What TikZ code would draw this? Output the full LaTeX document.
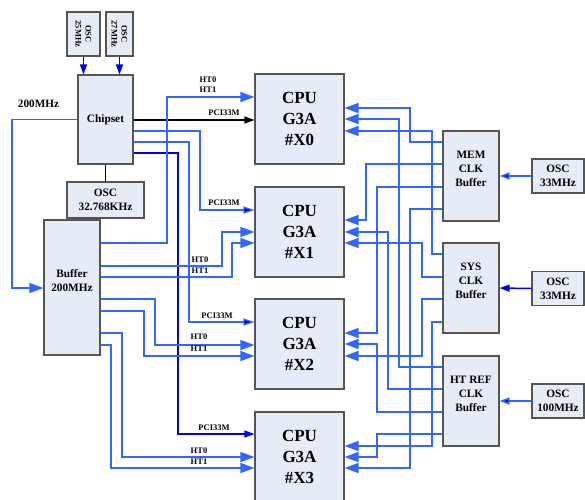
\documentclass[tikz,border=0pt]{standalone}
\usepackage{fontspec}
\setmainfont{Liberation Serif}
\usetikzlibrary{arrows.meta}
\definecolor{boxf}{HTML}{E6ECF6}
\definecolor{boxd}{HTML}{555555}
\definecolor{bluea}{HTML}{3366FF}
\definecolor{blueb}{HTML}{0000F0}
\begin{document}
\begin{tikzpicture}[x=1pt,y=-1pt,
  bx/.style={draw=boxd, fill=boxf, line width=1.1pt, inner sep=0pt, align=center, font=\bfseries\fontsize{11.3}{14}\selectfont},
  cpu/.style={bx, minimum width=89pt, minimum height=90pt, font=\bfseries\fontsize{17}{21}\selectfont},
  clk/.style={bx, minimum width=56pt, minimum height=90pt},
  osc/.style={bx, minimum width=52pt, minimum height=34pt},
  intext/.style={align=center, font=\bfseries\fontsize{11.3}{14}\selectfont, inner sep=0pt},
  rot/.style={rotate=-90, align=center, inner sep=0pt, font=\bfseries\fontsize{8.5}{10}\selectfont},
  big/.style={draw=bluea, line width=1.5pt, -{Triangle[length=14pt,width=10pt]}},
  pci/.style={draw=bluea, line width=1.2pt, -{Triangle[length=11pt,width=7pt,fill=blueb]}},
  dk/.style={draw=blueb, line width=1.2pt, -{Triangle[length=10pt,width=7pt]}},
  lab/.style={font=\bfseries\fontsize{8.5}{9}\selectfont, inner sep=0pt},
]
\useasboundingbox (0,0) rectangle (585,499);

% ---- boxes
\node[bx, minimum width=33pt, minimum height=44pt] (osca) at (83.5,34) {};
\node[rot] (oscat) at (osca) {OSC\\25MHz};
\node[bx, minimum width=27pt, minimum height=44pt] (oscb) at (119.5,34) {};
\node[rot] (oscbt) at (oscb) {OSC\\27MHz};
\node[bx, minimum width=55pt, minimum height=89pt] (chip) at (105.5,119.5) {Chipset};
\node[bx, minimum width=77pt, minimum height=36pt] (osc32) at (105.5,200) {OSC\\32.768KHz};
\node[bx, minimum width=56pt, minimum height=135pt,
      label={[intext, yshift=7pt]center:{Buffer\\200MHz}}] (buf) at (72,287.5) {};

\node[cpu] (x0) at (299.5,119) {CPU\\G3A\\\#X0};
\node[cpu] (x1) at (299.5,232) {CPU\\G3A\\\#X1};
\node[cpu] (x2) at (299.5,344) {CPU\\G3A\\\#X2};
\node[cpu] (x3) at (299.5,457) {CPU\\G3A\\\#X3};

\node[clk, label={[intext, yshift=7pt]center:{MEM\\CLK\\Buffer}}] (mem) at (471,176) {};
\node[clk, label={[intext, yshift=7pt]center:{SYS\\CLK\\Buffer}}] (sys) at (471,288) {};
\node[clk, label={[intext, yshift=7pt]center:{HT REF\\CLK\\Buffer}}] (htref) at (471,401) {};

\node[osc] (o1) at (558,176) {OSC\\33MHz};
\node[osc] (o2) at (558,288.5) {OSC\\33MHz};
\node[osc] (o3) at (558,401) {OSC\\100MHz};

% ---- oscillators
\draw[dk] (osca.south) -- (osca.south |- chip.north);
\draw[dk] (oscb.south) -- (oscb.south |- chip.north);
\draw[line width=1pt] (chip.south) -- (osc32.north);
\draw[dk, draw=bluea, line width=1.5pt, -{Triangle[length=10pt,width=7pt,fill=blueb]}] (o1.west) -- (mem.east);
\draw[dk, line width=1.5pt] (o2.west) -- (sys.east);
\draw[dk, draw=bluea, line width=1.5pt, -{Triangle[length=10pt,width=7pt,fill=blueb]}] (o3.west) -- (htref.east);

% ---- chipset to buffer
\draw[big] (chip.west) -| (12,288) -- (buf.west |- 0,288);
\node[font=\bfseries\fontsize{11.2}{13}\selectfont, inner sep=0pt] (f200) at (38.5,104) {200MHz};

% ---- PCI33M
\draw[draw=black, line width=1.1pt, -{Triangle[length=10pt,width=7pt]}] (chip.east |- 0,120) -- (x0.west |- 0,120);
\draw[pci] (chip.east |- 0,131) -| (200,210) -- (x1.west |- 0,210);
\draw[pci] (chip.east |- 0,142) -| (189,322) -- (x2.west |- 0,322);
\draw[dk] (chip.east |- 0,153) -| (178,434) -- (x3.west |- 0,434);

% ---- HT
\draw[big] (buf.east |- 0,243) -| (167,97) -- (x0.west |- 0,97);
\draw[big] (buf.east |- 0,266) -| (222,232) -- (x1.west |- 0,232);
\draw[big] (buf.east |- 0,277) -| (232,243) -- (x1.west |- 0,243);
\draw[big] (buf.east |- 0,299) -| (155,345) -- (x2.west |- 0,345);
\draw[big] (buf.east |- 0,311) -| (144,356) -- (x2.west |- 0,356);
\draw[big] (buf.east |- 0,333) -| (122,457) -- (x3.west |- 0,457);
\draw[big] (buf.east |- 0,345) -| (111,468) -- (x3.west |- 0,468);

% ---- labels
\node[lab] (l0a) at (208,80) {HT0};
\node[lab] (l0b) at (208,90) {HT1};
\node[lab] (p0) at (224,113) {PCI33M};
\node[lab] (p1) at (224,203) {PCI33M};
\node[lab] (h1a) at (200,260) {HT0};
\node[lab] (h1b) at (200,271) {HT1};
\node[lab] (p2) at (217,316) {PCI33M};
\node[lab] (h2a) at (199,337) {HT0};
\node[lab] (h2b) at (199,349) {HT1};
\node[lab] (p3) at (214,428) {PCI33M};
\node[lab] (h3a) at (199,451) {HT0};
\node[lab] (h3b) at (199,462) {HT1};

% ---- clock buffers to CPUs
\draw[big] (mem.west |- 0,142) -| (410,108) -- (x0.east |- 0,108);
\draw[big] (htref.west |- 0,367) -| (399,119) -- (x0.east |- 0,119);
\draw[big] (sys.west |- 0,254) -| (432,131) -- (x0.east |- 0,131);

\draw[big] (mem.west |- 0,164) -| (366,220) -- (x1.east |- 0,220);
\draw[big] (htref.west |- 0,389) -| (388,232) -- (x1.east |- 0,232);
\draw[big] (sys.west |- 0,277) -| (422,243) -- (x1.east |- 0,243);

\draw[big] (mem.west |- 0,187) -| (377,333) -- (x2.east |- 0,333);
\draw[big] (htref.west |- 0,412) -| (377,344) -- (x2.east |- 0,344);
\draw[big] (sys.west |- 0,299) -| (422,356) -- (x2.east |- 0,356);

\draw[big] (sys.west |- 0,322) -| (432,446) -- (x3.east |- 0,446);
\draw[big] (htref.west |- 0,434) -| (377,457) -- (x3.east |- 0,457);
\draw[big] (mem.west |- 0,209) -| (410,468) -- (x3.east |- 0,468);
\end{tikzpicture}
\end{document}
